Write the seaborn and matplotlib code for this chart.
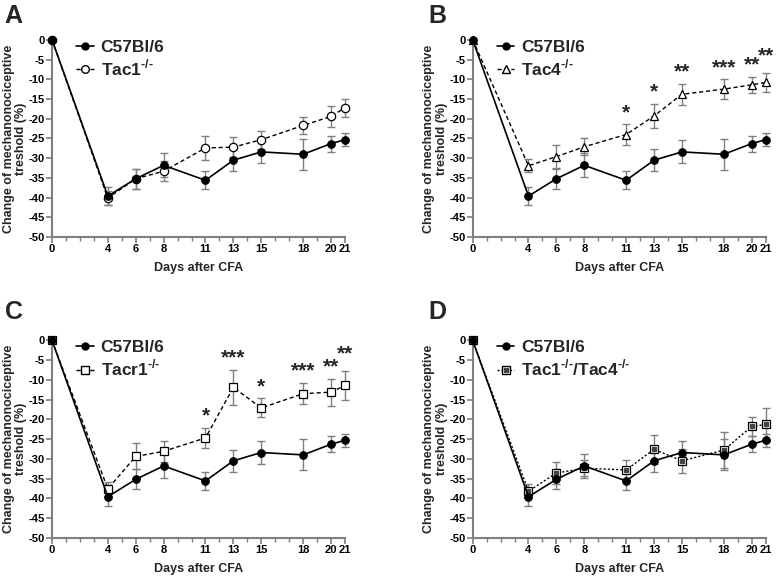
import numpy as np
import pandas as pd
import seaborn as sns
import matplotlib.pyplot as plt
from matplotlib.lines import Line2D

sns.set_style("ticks")
plt.rcParams['font.family'] = ['Liberation Sans', 'DejaVu Sans']
plt.rcParams['font.weight'] = 'bold'
plt.rcParams['axes.unicode_minus'] = False
plt.rcParams['mathtext.fontset'] = 'custom'
plt.rcParams['mathtext.rm'] = 'Liberation Sans:bold'
plt.rcParams['mathtext.bf'] = 'Liberation Sans:bold'

days = [0, 4, 6, 8, 11, 13, 15, 18, 20, 21]

wt = [0, -39.6, -35.2, -31.8, -35.6, -30.5, -28.4, -29.0, -26.3, -25.3]
wt_err = [0, 2.3, 2.5, 3.0, 2.3, 2.8, 2.9, 3.9, 2.0, 1.7]

tac1 = [0, -40.1, -35.2, -33.3, -27.4, -27.2, -25.3, -21.7, -19.4, -17.2]
tac1_err = [0, 1.8, 2.5, 2.6, 3.0, 2.6, 2.3, 2.1, 2.6, 2.3]

tac4 = [0, -31.9, -29.6, -27.1, -24.0, -19.3, -13.8, -12.5, -11.4, -10.8]
tac4_err = [0, 1.6, 3.0, 2.2, 2.6, 3.0, 2.7, 2.5, 2.1, 2.4]
tac4_stars = ["", "", "", "", "*", "*", "**", "***", "**", "**"]

tacr1 = [0, -37.6, -29.4, -28.1, -24.7, -11.9, -17.1, -13.5, -13.1, -11.4]
tacr1_err = [0, 1.8, 3.3, 2.7, 2.5, 4.4, 2.4, 2.7, 3.4, 3.6]
tacr1_stars = ["", "", "", "", "*", "***", "*", "***", "**", "**"]

dko = [0, -38.2, -33.6, -32.4, -32.8, -27.6, -30.5, -27.8, -21.8, -21.3]
dko_err = [0, 1.7, 2.8, 2.0, 2.6, 3.7, 3.0, 4.5, 2.3, 4.3]

sup = r"$^{\text{-/-}}$"
panels = [
    ("A", "Tac1" + sup, tac1, tac1_err, "o", (0, (3, 2)), None, False),
    ("B", "Tac4" + sup, tac4, tac4_err, "^", (0, (3, 2)), tac4_stars, False),
    ("C", "Tacr1" + sup, tacr1, tacr1_err, "s", (0, (3, 2)), tacr1_stars, False),
    ("D", "Tac1" + sup + "/Tac4" + sup, dko, dko_err, "s", (0, (1.5, 1.5)), None, True),
]

fig = plt.figure(figsize=(7.8, 5.77), dpi=100)
positions = [(0.0667, 0.589), (0.606, 0.589), (0.0667, 0.068), (0.606, 0.068)]
letter_pos = [(0.006, 0.972), (0.549, 0.972), (0.006, 0.459), (0.549, 0.459)]
grey = "#7f7f7f"

for (letter, name, vals, errs, mk, ls, stars, dot), (lx, by), (tx, ty) in zip(
        panels, positions, letter_pos):
    ax = fig.add_axes([lx, by, 0.3756, 0.342])
    df = pd.DataFrame({"day": days, "wt": wt, "ko": vals})

    ax.errorbar(days, wt, yerr=wt_err, fmt="none", ecolor=grey, elinewidth=1,
                capsize=3, capthick=1, zorder=1)
    ax.errorbar(days, vals, yerr=errs, fmt="none", ecolor=grey, elinewidth=1,
                capsize=3, capthick=1, zorder=1)
    sns.lineplot(data=df, x="day", y="ko", ax=ax, color="black", lw=1,
                 linestyle=ls, marker=mk, markersize=6, markerfacecolor="white",
                 markeredgecolor="black", markeredgewidth=0.9, zorder=3)
    if dot:
        ax.plot(df["day"], df["ko"], linestyle="none", marker="s", markersize=2.2,
                color="#444444", zorder=3.5)
    sns.lineplot(data=df, x="day", y="wt", ax=ax, color="black", lw=1.2,
                 marker="o", markersize=5.5, markerfacecolor="black",
                 markeredgecolor="black", zorder=4)

    if stars:
        for d, v, e, s in zip(days, vals, errs, stars):
            if s:
                off = 3.0 if d != 21 else 4.3
                ax.text(d, v + e + off, s, ha="center", va="center",
                        fontsize=15, fontweight="bold")

    ax.set_xlim(0, 21)
    ax.set_ylim(-50, 0)
    ax.set_xticks(days)
    ax.set_xticks(range(0, 22), minor=True)
    ax.set_yticks(range(-50, 1, 5))
    ax.tick_params(axis="both", labelsize=8, colors=grey, labelcolor="black",
                   width=1.2, length=4, pad=1)
    ax.tick_params(axis="x", which="minor", colors=grey, width=1, length=3)
    for lab in ax.get_xticklabels() + ax.get_yticklabels():
        lab.set_fontweight("bold")
    for side in ["top", "right"]:
        ax.spines[side].set_visible(False)
    for side in ["left", "bottom"]:
        ax.spines[side].set_color(grey)
        ax.spines[side].set_linewidth(1.5)
    ax.set_xlabel("Days after CFA", fontsize=9, fontweight="bold", labelpad=6)
    ax.set_ylabel("Change of mechanonociceptive\ntreshold (%)", fontsize=9,
                  fontweight="bold", labelpad=1, linespacing=1.1)
    for art in ax.lines + ax.collections:
        art.set_clip_on(False)

    h_wt = Line2D([], [], color="black", lw=1.2, marker="o", markersize=5,
                  markerfacecolor="black")
    h_ko = Line2D([], [], color="black", lw=1, linestyle=ls, marker=mk, markersize=5.5,
                  markerfacecolor="white", markeredgecolor="black")
    if dot:
        h_dot = Line2D([], [], linestyle="none", marker="s", markersize=2.2,
                       color="#444444")
        h_ko = (h_ko, h_dot)
    ax.legend([h_wt, h_ko], ["C57Bl/6", name], loc="upper left",
              bbox_to_anchor=(0.03, 1.08), frameon=False, handlelength=1.0,
              handletextpad=0.4, labelspacing=0.15,
              prop={"size": 12.5, "weight": "bold"})

    fig.text(tx, ty, letter, fontsize=18, fontweight="bold", va="center", ha="left")

fig.savefig("out.png", dpi=100)
